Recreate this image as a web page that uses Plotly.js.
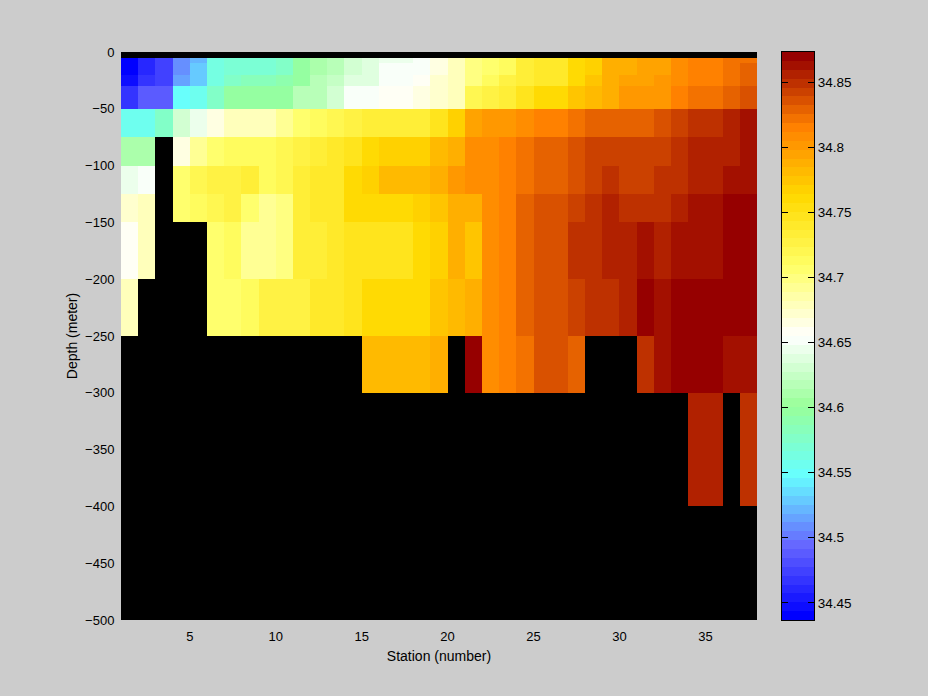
<!DOCTYPE html>
<html>
<head>
<meta charset="utf-8">
<script src="https://cdn.plot.ly/plotly-3.0.1.min.js"></script>
<style>html,body{margin:0;padding:0;background:#ccc}</style>
</head>
<body>
<div id="chart" style="width:928px;height:696px"></div>
<script>
const stationEdges = [1,2,3,4,5,6,7,8,9,10,11,12,13,14,15,16,17,18,19,20,21,22,23,24,25,26,27,28,29,30,31,32,33,34,35,36,37,38];
const depthEdges = [0,-5,-10,-20,-30,-50,-75,-100,-125,-150,-200,-250,-300,-400,-500];
const _ = null;
const d0_5 = new Array(37).fill(null);
const d5_10 = [34.44,34.46,34.475,34.51,34.525,34.56,34.57,34.572,34.572,34.575,34.6,34.61,34.618,34.63,34.637,34.643,34.643,34.65,34.668,34.68,34.70,34.705,34.712,34.735,34.74,34.74,34.762,34.765,34.785,34.785,34.795,34.795,34.81,34.818,34.818,34.825,34.822];
const d10_20 = [34.44,34.46,34.475,34.51,34.53,34.56,34.57,34.572,34.572,34.575,34.6,34.61,34.618,34.63,34.637,34.65,34.65,34.655,34.668,34.68,34.70,34.705,34.712,34.735,34.74,34.74,34.762,34.765,34.785,34.785,34.795,34.795,34.81,34.818,34.818,34.825,34.83];
const d20_30 = [34.45,34.465,34.475,34.515,34.53,34.56,34.578,34.582,34.582,34.59,34.6,34.618,34.625,34.637,34.637,34.65,34.65,34.66,34.67,34.68,34.70,34.715,34.725,34.735,34.74,34.74,34.762,34.775,34.785,34.795,34.795,34.805,34.81,34.818,34.818,34.825,34.83];
const d30_50 = [34.47,34.49,34.49,34.548,34.553,34.58,34.598,34.598,34.598,34.6,34.62,34.62,34.628,34.65,34.65,34.658,34.658,34.668,34.675,34.68,34.722,34.728,34.735,34.75,34.762,34.762,34.775,34.78,34.79,34.80,34.80,34.80,34.818,34.825,34.825,34.83,34.838];
const d50_75 = [34.555,34.555,34.578,34.63,34.645,34.668,34.68,34.68,34.68,34.69,34.705,34.71,34.72,34.728,34.732,34.735,34.735,34.735,34.75,34.765,34.795,34.80,34.80,34.81,34.818,34.818,34.825,34.83,34.83,34.83,34.83,34.836,34.845,34.85,34.85,34.858,34.865];
const d75_100 = [34.61,34.61,_,34.662,34.695,34.708,34.715,34.715,34.715,34.72,34.725,34.732,34.738,34.75,34.762,34.765,34.765,34.765,34.78,34.79,34.81,34.81,34.818,34.825,34.83,34.83,34.838,34.845,34.845,34.845,34.845,34.845,34.85,34.858,34.858,34.858,34.865];
const d100_125 = [34.645,34.65,_,34.708,34.72,34.725,34.725,34.732,34.715,34.72,34.735,34.738,34.742,34.762,34.765,34.778,34.778,34.778,34.79,34.80,34.81,34.81,34.818,34.825,34.83,34.83,34.836,34.845,34.85,34.845,34.845,34.85,34.85,34.858,34.858,34.865,34.865];
const d125_150 = [34.672,34.678,_,34.705,34.71,34.72,34.725,34.708,34.695,34.70,34.735,34.738,34.742,34.762,34.762,34.762,34.762,34.77,34.775,34.79,34.79,34.808,34.818,34.83,34.836,34.836,34.845,34.85,34.858,34.85,34.85,34.85,34.858,34.865,34.865,34.872,34.872];
const d150_200 = [34.66,34.678,_,_,_,34.705,34.712,34.695,34.695,34.70,34.733,34.736,34.742,34.75,34.75,34.75,34.75,34.762,34.765,34.79,34.775,34.808,34.818,34.83,34.838,34.838,34.85,34.85,34.858,34.858,34.865,34.858,34.865,34.865,34.865,34.872,34.872];
const d200_250 = [34.68,_,_,_,_,34.705,34.705,34.71,34.728,34.73,34.73,34.737,34.742,34.75,34.762,34.762,34.762,34.762,34.775,34.78,34.79,34.808,34.818,34.83,34.838,34.838,34.845,34.85,34.85,34.858,34.872,34.865,34.872,34.872,34.872,34.872,34.872];
const d250_300 = [_,_,_,_,_,_,_,_,_,_,_,_,_,_,34.778,34.778,34.778,34.778,34.785,_,34.872,34.808,34.818,34.823,34.838,34.838,34.83,_,_,_,34.85,34.865,34.872,34.872,34.872,34.865,34.865];
const d300_400 = [_,_,_,_,_,_,_,_,_,_,_,_,_,_,_,_,_,_,_,_,_,_,_,_,_,_,_,_,_,_,_,_,_,34.858,34.858,_,34.85];
const d400_500 = new Array(37).fill(null);
const salinity = [d0_5,d5_10,d10_20,d20_30,d30_50,d50_75,d75_100,d100_125,d125_150,d150_200,d200_250,d250_300,d300_400,d400_500];
const colorbarTicks = [34.45,34.5,34.55,34.6,34.65,34.7,34.75,34.8,34.85];

const zMin = 34.4368, zMax = 34.8733, nLevels = 64;
const rampStops = [0,0.125,0.25,0.375,0.5,0.625,0.75,0.875,1];
const rampColors = [[0,0,255],[102,102,255],[102,255,255],[153,255,153],[255,255,255],[255,255,102],[255,217,0],[255,128,0],[150,0,0]];
function ramp(t){
  let i = 0;
  while(i < rampStops.length-2 && t > rampStops[i+1]) i++;
  const f = (t-rampStops[i])/(rampStops[i+1]-rampStops[i]);
  const c = rampColors[i].map((v,k)=>Math.round(v+(rampColors[i+1][k]-v)*f));
  return 'rgb('+c.join(',')+')';
}
const colorscale = [];
const barEdges = [], barLevels = [];
for(let i=0;i<nLevels;i++){
  const col = ramp(i/(nLevels-1));
  colorscale.push([i/nLevels,col]);
  colorscale.push([(i+1)/nLevels,col]);
  barEdges.push(zMin+(zMax-zMin)*i/nLevels);
  barLevels.push([zMin+(zMax-zMin)*(i+0.5)/nLevels]);
}
barEdges.push(zMax);
const family = 'Liberation Sans, Arial, sans-serif';
const W = 928-121-114;
const main = {
  type:'heatmap', x:stationEdges, y:depthEdges, z:salinity,
  zmin:zMin, zmax:zMax, zsmooth:false, colorscale:colorscale, showscale:false, hoverongaps:false
};
const bar = {
  type:'heatmap', x:[0,1], y:barEdges, z:barLevels, xaxis:'x2', yaxis:'y2',
  zmin:zMin, zmax:zMax, zsmooth:false, colorscale:colorscale, showscale:false
};
const layout = {
  width:928, height:696, paper_bgcolor:'#cccccc', plot_bgcolor:'#000000',
  margin:{l:121,r:114,t:52,b:76,pad:0}, font:{family:family,size:13,color:'#000'}, showlegend:false,
  xaxis:{domain:[0,636/W],range:[1,38],tickmode:'array',tickvals:[5,10,15,20,25,30,35],ticks:'outside',ticklen:4,tickcolor:'rgba(0,0,0,0)',
    showgrid:false,zeroline:false,showline:false,title:{text:'Station (number)',font:{size:14},standoff:8}},
  yaxis:{range:[-500,0],tick0:0,dtick:50,ticks:'outside',ticklen:3,tickcolor:'rgba(0,0,0,0)',
    showgrid:false,zeroline:false,showline:false,title:{text:'Depth (meter)',font:{size:14},standoff:4}},
  xaxis2:{domain:[661/W,1],range:[0,1],anchor:'y2',showticklabels:false,ticks:'',showgrid:false,zeroline:false,
    showline:true,linecolor:'#000',linewidth:1,mirror:true},
  yaxis2:{range:[zMin,zMax],anchor:'x2',side:'right',tickmode:'array',tickvals:colorbarTicks,ticktext:colorbarTicks.map(String),
    ticks:'inside',ticklen:6,tickwidth:1,tickcolor:'#000',showgrid:false,zeroline:false,
    showline:true,linecolor:'#000',linewidth:1,mirror:'ticks',tickfont:{size:13.5,color:'#000'}}
};
Plotly.newPlot('chart',[main,bar],layout,{displayModeBar:false,staticPlot:true});
</script>
</body>
</html>
